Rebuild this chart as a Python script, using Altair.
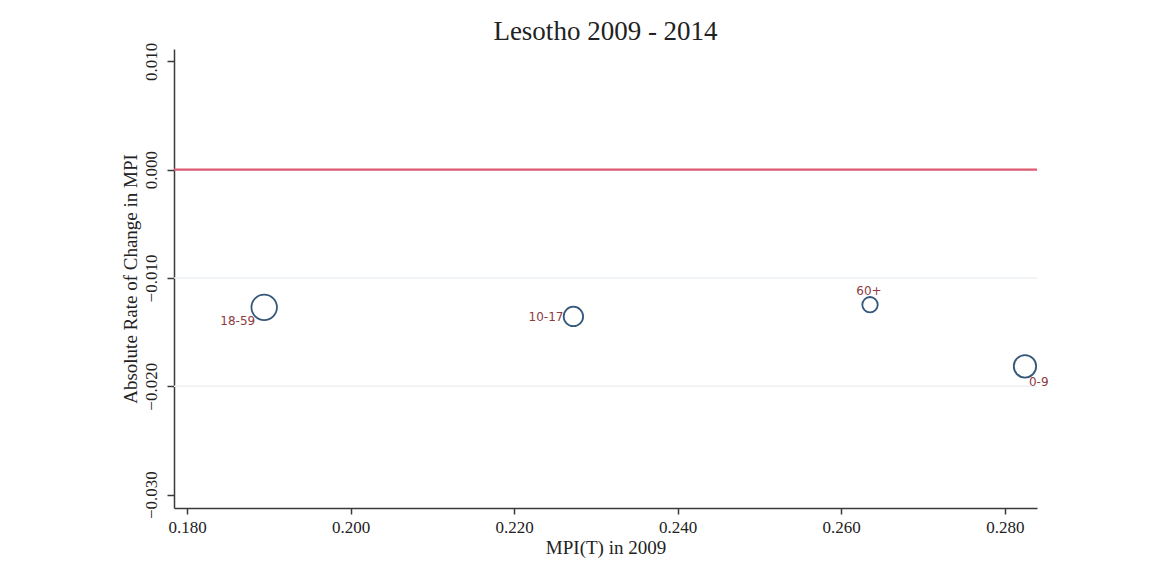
import altair as alt
import pandas as pd

# ---- data ----
groups = ["18-59", "10-17", "60+", "0-9"]
mpi_2009 = [0.18944, 0.22725, 0.26352, 0.28247]
abs_change = [-0.01271, -0.01355, -0.01247, -0.01816]
weights = [37.0, 21.5, 13.5, 28.5]

x_ticks = [0.18, 0.20, 0.22, 0.24, 0.26, 0.28]
y_ticks = [0.01, 0.0, -0.01, -0.02, -0.03]
grid_vals = [-0.01, -0.02]
ref_line = [0.0]

df = pd.DataFrame({"group": groups, "x": mpi_2009, "y": abs_change, "w": weights})
grid_df = pd.DataFrame({"y": grid_vals})
ref_df = pd.DataFrame({"y": ref_line})

SERIF = "Liberation Serif"
AXIS_COL = "#3a3a3a"

xscale = alt.Scale(domain=[0.17841, 0.28394], nice=False, zero=False)
yscale = alt.Scale(domain=[-0.03124, 0.01114], nice=False, zero=False)

xaxis = alt.Axis(
    values=x_ticks, format=".3f", title="MPI(T) in 2009", grid=False,
    labelFont=SERIF, labelFontSize=17, labelColor="#222", labelPadding=5,
    tickSize=6, tickColor=AXIS_COL, domainColor=AXIS_COL, domainWidth=1.5, tickWidth=1.5,
    titleFont=SERIF, titleFontSize=19, titleFontWeight="normal", titleColor="#222",
    titlePadding=3,
)
yaxis = alt.Axis(
    values=y_ticks, format=".3f", title="Absolute Rate of Change in MPI", grid=False,
    labelFont=SERIF, labelFontSize=17, labelColor="#222", labelAngle=270,
    labelAlign="center", labelBaseline="alphabetic", labelPadding=11,
    tickSize=7, tickColor=AXIS_COL, domainColor=AXIS_COL, domainWidth=1.5, tickWidth=1.5,
    titleFont=SERIF, titleFontSize=19, titleFontWeight="normal", titleColor="#222",
    titlePadding=2,
)

grid = alt.Chart(grid_df).mark_rule(color="#edf1f4", strokeWidth=1.5).encode(
    y=alt.Y("y:Q", scale=yscale, axis=yaxis)
)

ref = alt.Chart(ref_df).mark_rule(color="#dc5a72", strokeWidth=2.2).encode(
    y=alt.Y("y:Q", scale=yscale)
)

points = alt.Chart(df).mark_point(
    shape="circle", filled=False, stroke="#34577a", strokeWidth=1.8, opacity=1
).encode(
    x=alt.X("x:Q", scale=xscale, axis=xaxis),
    y=alt.Y("y:Q", scale=yscale),
    size=alt.Size("w:Q", scale=alt.Scale(domain=[0, 37], range=[0, 650]), legend=None),
)


def label_layer(name, align, dx, dy):
    return alt.Chart(df).transform_filter(alt.datum.group == name).mark_text(
        font="DejaVu Sans", fontSize=12, color="#8e3a3e", align=align,
        baseline="middle", dx=dx, dy=dy
    ).encode(
        x=alt.X("x:Q", scale=xscale),
        y=alt.Y("y:Q", scale=yscale),
        text="group:N",
    )


labels = [
    label_layer("18-59", "right", -9, 14),
    label_layer("10-17", "right", -10, 1),
    label_layer("60+", "center", -1, -14),
    label_layer("0-9", "left", 4, 16),
]

chart = alt.layer(grid, ref, points, *labels).properties(
    width=863,
    height=459,
    view=alt.ViewBackground(stroke="transparent", strokeWidth=0),
    title=alt.TitleParams(
        "Lesotho 2009 - 2014", font=SERIF, fontSize=27, fontWeight="normal",
        color="#222", anchor="middle", offset=-4,
    ),
    autosize=alt.AutoSizeParams(type="none"),
    padding={"left": 166, "top": 41, "right": 100, "bottom": 50},
).configure_view(strokeWidth=0, stroke="transparent").configure(background="white")

chart.save("out.html", embed_options={"renderer": "svg", "actions": False})
